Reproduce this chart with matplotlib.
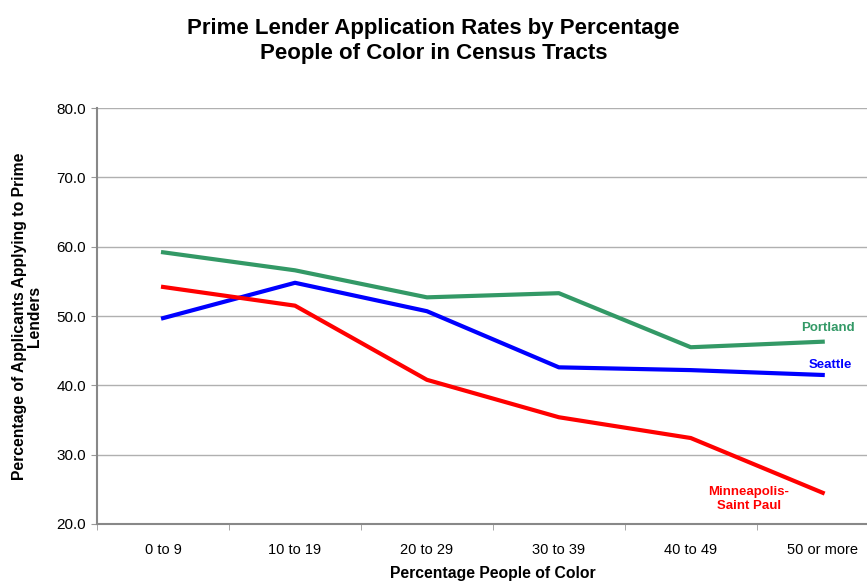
import matplotlib.pyplot as plt

# data
categories = ['0 to 9', '10 to 19', '20 to 29', '30 to 39', '40 to 49', '50 or more']
portland = [59.2, 56.6, 52.7, 53.3, 45.5, 46.3]
seattle = [49.7, 54.8, 50.7, 42.6, 42.2, 41.5]
minneapolis = [54.2, 51.5, 40.8, 35.4, 32.4, 24.5]

plt.rcParams['font.family'] = ['Liberation Sans', 'DejaVu Sans']

fig = plt.figure(figsize=(8.67, 5.82), dpi=100)
ax = fig.add_axes([0.112, 0.0997, 0.913, 0.7145])

x = list(range(len(categories)))
ax.plot(x, portland, color='#339966', lw=3, solid_joinstyle='round')
ax.plot(x, seattle, color='#0000ff', lw=3, solid_joinstyle='round')
ax.plot(x, minneapolis, color='#ff0000', lw=3, solid_joinstyle='round')

ax.set_xlim(-0.5, len(categories) - 0.5)
ax.set_ylim(20, 80)
ax.set_yticks(range(20, 81, 10))
ax.set_yticklabels(['%.1f' % v for v in range(20, 81, 10)], fontsize=11)
ax.set_xticks(x)
ax.set_xticklabels(categories, fontsize=10.5)
ax.tick_params(axis='x', length=0, pad=14)
ax.set_xticks([i - 0.5 for i in range(len(categories) + 1)], minor=True)
ax.tick_params(axis='x', which='minor', length=4, color='#999999')
ax.tick_params(axis='y', length=4, color='#999999', pad=4)

ax.grid(axis='y', color='#b0b0b0', lw=1)
ax.set_axisbelow(True)
for s in ['top', 'right']:
    ax.spines[s].set_visible(False)
for s in ['left', 'bottom']:
    ax.spines[s].set_color('#888888')
    ax.spines[s].set_linewidth(1.5)

ax.set_xlabel('Percentage People of Color', fontsize=11.3, fontweight='bold', labelpad=6)
ax.set_ylabel('Percentage of Applicants Applying to Prime\nLenders', fontsize=11.3,
              fontweight='bold', labelpad=10, linespacing=1.05)

ax.text(5.04, 48.3, 'Portland', color='#339966', fontsize=9.5, fontweight='bold',
        ha='center', va='center')
ax.text(5.06, 42.9, 'Seattle', color='#0000ff', fontsize=9.5, fontweight='bold',
        ha='center', va='center')
ax.text(4.44, 23.6, 'Minneapolis-\nSaint Paul', color='#ff0000', fontsize=9.5,
        fontweight='bold', ha='center', va='center', linespacing=1.2)

fig.text(0.5, 0.929, 'Prime Lender Application Rates by Percentage\nPeople of Color in Census Tracts',
         ha='center', va='center', fontsize=16, fontweight='bold', linespacing=1.26)

fig.savefig('out.png', dpi=100)
